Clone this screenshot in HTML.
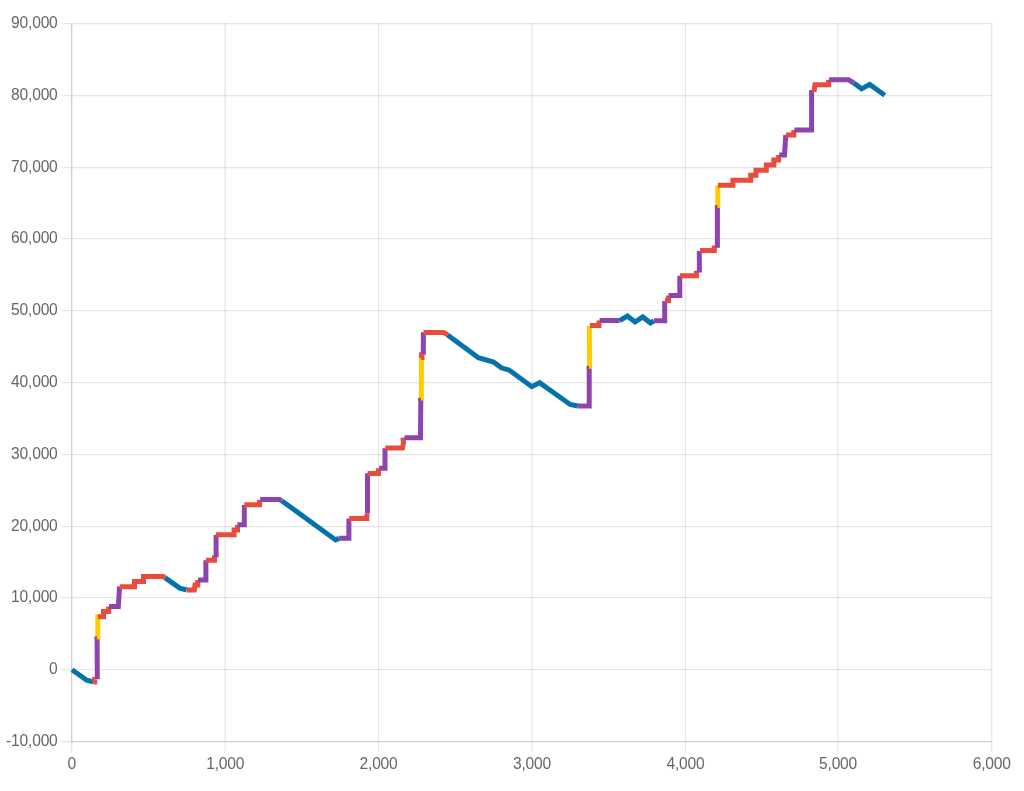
<!DOCTYPE html>
<html lang="en">
<head>
<meta charset="utf-8">
<title>Chart</title>
<style>
html,body{margin:0;padding:0;background:#fff;}
body{width:1024px;height:791px;overflow:hidden;}
svg{display:block;}
text{font-family:"Liberation Sans",Arial,Helvetica,sans-serif;font-size:15.6px;fill:#666;letter-spacing:-0.2px;}
</style>
</head>
<body>
<svg width="1024" height="791" viewBox="0 0 1024 791">
<rect width="1024" height="791" fill="#fff"/>

<g fill="rgba(0,0,0,0.1)">
<rect x="71.075" y="742.250" width="1.25" height="9.375"/>
<rect x="224.575" y="23.000" width="1.25" height="718.000"/>
<rect x="224.575" y="742.250" width="1.25" height="9.375"/>
<rect x="377.925" y="23.000" width="1.25" height="718.000"/>
<rect x="377.925" y="742.250" width="1.25" height="9.375"/>
<rect x="531.375" y="23.000" width="1.25" height="718.000"/>
<rect x="531.375" y="742.250" width="1.25" height="9.375"/>
<rect x="684.875" y="23.000" width="1.25" height="718.000"/>
<rect x="684.875" y="742.250" width="1.25" height="9.375"/>
<rect x="837.425" y="23.000" width="1.25" height="718.000"/>
<rect x="837.425" y="742.250" width="1.25" height="9.375"/>
<rect x="991.075" y="23.000" width="1.25" height="718.000"/>
<rect x="991.075" y="742.250" width="1.25" height="9.375"/>
<rect x="72.325" y="23.000" width="918.750" height="1.25"/>
<rect x="61.700" y="23.000" width="9.375" height="1.25"/>
<rect x="72.325" y="95.000" width="918.750" height="1.25"/>
<rect x="61.700" y="95.000" width="9.375" height="1.25"/>
<rect x="72.325" y="167.000" width="918.750" height="1.25"/>
<rect x="61.700" y="167.000" width="9.375" height="1.25"/>
<rect x="72.325" y="238.000" width="918.750" height="1.25"/>
<rect x="61.700" y="238.000" width="9.375" height="1.25"/>
<rect x="72.325" y="310.000" width="918.750" height="1.25"/>
<rect x="61.700" y="310.000" width="9.375" height="1.25"/>
<rect x="72.325" y="382.000" width="918.750" height="1.25"/>
<rect x="61.700" y="382.000" width="9.375" height="1.25"/>
<rect x="72.325" y="454.000" width="918.750" height="1.25"/>
<rect x="61.700" y="454.000" width="9.375" height="1.25"/>
<rect x="72.325" y="526.000" width="918.750" height="1.25"/>
<rect x="61.700" y="526.000" width="9.375" height="1.25"/>
<rect x="72.325" y="597.000" width="918.750" height="1.25"/>
<rect x="61.700" y="597.000" width="9.375" height="1.25"/>
<rect x="72.325" y="669.000" width="918.750" height="1.25"/>
<rect x="61.700" y="669.000" width="9.375" height="1.25"/>
<rect x="61.700" y="741.000" width="9.375" height="1.25"/>
</g>
<g fill="#cfcfcf">
<rect x="71.075" y="23.000" width="1.25" height="719.250"/>
<rect x="71.075" y="741.000" width="921.250" height="1.25"/>
</g>
<g text-anchor="end">
<text x="57.6" y="28.12">90,000</text>
<text x="57.6" y="100.12">80,000</text>
<text x="57.6" y="172.12">70,000</text>
<text x="57.6" y="243.12">60,000</text>
<text x="57.6" y="315.12">50,000</text>
<text x="57.6" y="387.12">40,000</text>
<text x="57.6" y="459.12">30,000</text>
<text x="57.6" y="531.12">20,000</text>
<text x="57.6" y="602.12">10,000</text>
<text x="57.6" y="674.12">0</text>
<text x="57.6" y="746.12">-10,000</text>
</g>
<g text-anchor="middle">
<text x="71.70" y="769.4">0</text>
<text x="225.20" y="769.4">1,000</text>
<text x="378.55" y="769.4">2,000</text>
<text x="532.00" y="769.4">3,000</text>
<text x="685.50" y="769.4">4,000</text>
<text x="838.05" y="769.4">5,000</text>
<text x="991.70" y="769.4">6,000</text>
</g>
<g fill="none" stroke-width="5" stroke-linecap="butt" stroke-linejoin="miter">
<path d="M72.00 669.70 L86.70 680.20 L93.30 681.95" stroke="#0473aa"/>
<path d="M92.10 679.50 L94.90 679.50" stroke="#e74c3c"/>
<path d="M93.30 681.95 L97.25 681.95" stroke="#e74c3c"/>
<path d="M97.30 679.20 L97.10 636.80" stroke="#8e44ad"/>
<path d="M97.80 639.30 L97.80 614.20" stroke="#ffcc00"/>
<path d="M98.00 616.70 L103.50 616.70 L103.50 611.60 L108.70 611.60 L108.70 606.50" stroke="#e74c3c"/>
<path d="M109.00 606.50 L118.30 606.50 L119.60 586.50" stroke="#8e44ad"/>
<path d="M119.80 586.70 L134.50 586.70 L134.50 581.60 L143.50 581.60 L143.50 576.50 L163.30 576.50 L165.20 577.90" stroke="#e74c3c"/>
<path d="M165.20 577.90 L180.10 588.40 L186.60 589.80" stroke="#0473aa"/>
<path d="M186.60 590.00 L194.30 590.00 L195.00 585.10 L197.75 585.10 L197.75 580.00" stroke="#e74c3c"/>
<path d="M198.00 580.00 L205.90 580.00 L205.90 560.20" stroke="#8e44ad"/>
<path d="M205.90 560.20 L214.50 560.20 L214.50 555.30" stroke="#e74c3c"/>
<path d="M216.10 557.30 L216.10 534.90" stroke="#8e44ad"/>
<path d="M216.00 534.80 L234.10 534.80 L234.10 530.00 L237.50 530.00 L237.50 524.90" stroke="#e74c3c"/>
<path d="M237.40 524.80 L244.30 524.80 L244.30 505.00" stroke="#8e44ad"/>
<path d="M244.30 504.80 L259.60 504.80 L259.60 499.70" stroke="#e74c3c"/>
<path d="M260.20 499.60 L279.60 499.60 L281.70 500.65" stroke="#8e44ad"/>
<path d="M281.70 500.65 L335.60 539.90 L339.10 538.40" stroke="#0473aa"/>
<path d="M339.10 538.30 L348.90 538.30 L348.90 518.40" stroke="#8e44ad"/>
<path d="M349.20 518.40 L366.90 518.40 L366.90 513.40" stroke="#e74c3c"/>
<path d="M367.50 513.40 L367.50 473.30" stroke="#8e44ad"/>
<path d="M367.60 473.40 L378.50 473.40 L378.50 468.30" stroke="#e74c3c"/>
<path d="M379.20 468.30 L385.00 468.30 L385.00 448.20" stroke="#8e44ad"/>
<path d="M385.30 447.90 L402.50 447.90 L403.60 442.50 L402.80 437.70" stroke="#e74c3c"/>
<path d="M404.50 437.70 L420.50 437.70 L420.80 398.10" stroke="#8e44ad"/>
<path d="M421.30 400.60 L421.50 357.80" stroke="#ffcc00"/>
<path d="M423.30 354.70 L423.40 332.30" stroke="#8e44ad"/>
<path d="M423.60 332.45 L443.60 332.45 L447.60 334.90" stroke="#e74c3c"/>
<path d="M447.60 334.90 L478.40 357.70 L493.60 362.10 L501.20 367.80 L509.40 370.20 L531.80 386.65 L539.60 382.70 L570.20 404.50 L577.80 406.00" stroke="#0473aa"/>
<path d="M577.80 406.10 L589.20 406.10 L589.20 366.20" stroke="#8e44ad"/>
<path d="M589.50 368.70 L589.45 325.70" stroke="#ffcc00"/>
<path d="M589.90 325.60 L599.00 325.60 L599.00 320.60" stroke="#e74c3c"/>
<path d="M599.60 320.50 L619.60 320.40" stroke="#8e44ad"/>
<path d="M619.60 320.60 L627.35 316.00 L635.10 322.00 L642.75 316.95 L650.40 323.00 L653.90 320.90" stroke="#0473aa"/>
<path d="M653.90 320.70 L664.70 320.70 L664.70 301.00" stroke="#8e44ad"/>
<path d="M665.00 300.60 L668.50 300.60 L668.50 295.50" stroke="#e74c3c"/>
<path d="M668.50 295.50 L679.80 295.50 L679.80 275.80" stroke="#8e44ad"/>
<path d="M680.00 275.70 L696.40 275.70 L696.40 270.80" stroke="#e74c3c"/>
<path d="M699.40 272.60 L699.30 251.00" stroke="#8e44ad"/>
<path d="M700.00 250.60 L714.30 250.60 L714.30 245.60" stroke="#e74c3c"/>
<path d="M717.40 247.80 L717.40 205.40" stroke="#8e44ad"/>
<path d="M717.80 207.90 L717.80 185.20" stroke="#ffcc00"/>
<path d="M718.00 185.20 L732.90 185.20 L732.90 180.20 L750.70 180.20 L750.70 175.20 L756.00 175.20 L756.00 170.20 L766.30 170.20 L766.30 165.10 L773.80 165.10 L773.80 160.10 L778.60 160.10 L778.60 155.00" stroke="#e74c3c"/>
<path d="M779.20 155.00 L784.50 155.00 L785.80 134.90" stroke="#8e44ad"/>
<path d="M786.00 134.90 L793.80 134.90 L793.80 130.00" stroke="#e74c3c"/>
<path d="M794.40 130.00 L811.60 130.00 L811.60 90.10" stroke="#8e44ad"/>
<path d="M814.00 91.90 L815.00 84.75 L828.60 84.75 L828.60 79.70" stroke="#e74c3c"/>
<path d="M829.10 79.80 L848.60 79.80 L853.90 83.00" stroke="#8e44ad"/>
<path d="M853.90 83.00 L861.60 88.85 L869.70 84.40 L884.75 95.30" stroke="#0473aa"/>
</g>
<rect x="94.60" y="636.50" width="2.35" height="3.00" fill="#8e44ad"/>
<rect x="418.30" y="397.80" width="2.60" height="3.00" fill="#8e44ad"/>
<rect x="586.70" y="365.90" width="2.40" height="3.00" fill="#8e44ad"/>
<rect x="714.90" y="205.10" width="2.50" height="3.00" fill="#8e44ad"/>
<rect x="419.00" y="352.30" width="2.00" height="5.60" fill="#e74c3c"/>
<rect x="420.90" y="354.70" width="3.60" height="5.20" fill="#e74c3c"/>
</svg>
</body>
</html>
